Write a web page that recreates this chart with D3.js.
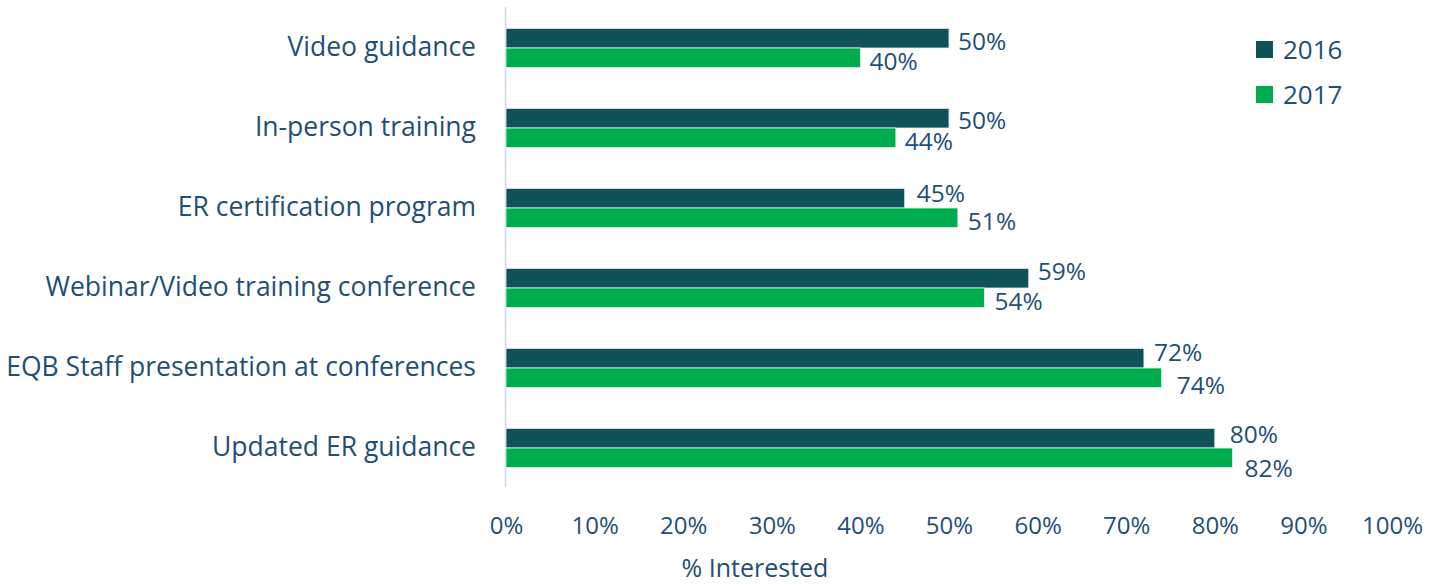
<!DOCTYPE html>
<html>
<head>
<meta charset="utf-8">
<script src="https://cdn.jsdelivr.net/npm/d3@7"></script>
<style>
  html, body { margin: 0; padding: 0; background: #ffffff; }
  svg { display: block; }
  text { font-family: "Open Sans", "Lato", sans-serif; fill: #1f4e79; }
</style>
</head>
<body>
<svg id="chart" width="1447" height="585"></svg>
<script>
// Interest in outreach options, share of respondents
const categories = [
  "Video guidance",
  "In-person training",
  "ER certification program",
  "Webinar/Video training conference",
  "EQB Staff presentation at conferences",
  "Updated ER guidance"
];
const seriesNames = ["2016", "2017"];
const values2016 = [0.50, 0.50, 0.45, 0.59, 0.72, 0.80];
const values2017 = [0.40, 0.44, 0.51, 0.54, 0.74, 0.82];
const tickValues = [0, 0.1, 0.2, 0.3, 0.4, 0.5, 0.6, 0.7, 0.8, 0.9, 1.0];
const axisTitle = "% Interested";

// hand-placed label nudges (px) so neighbouring value labels don't collide
const labelNudge = {
  "2016": { dx: [9, 9, 12, 9, 10, 15], dy: [2.6, 1.4, -6, -8, -7, -5] },
  "2017": { dx: [9, 9, 10, 10, 15, 12], dy: [3, 2.7, 3, 2.5, 6.5, 10] }
};

const colors = { "2016": "#10525a", "2017": "#00ad4e" };
const textColor = "#1f4e79";
const valueFont = 24.5;
const categoryFont = 26.5;
const tickFont = 24;

const svg = d3.select("#chart");
const plot = { left: 506, right: 1392, top: 8, bottom: 488 };

const x = d3.scaleLinear().domain([0, 1]).range([plot.left, plot.right]);
const y = d3.scaleBand().domain(categories).range([plot.top, plot.bottom]).paddingInner(0.51).paddingOuter(0.255);
const sub = d3.scaleBand().domain(seriesNames).range([0, y.bandwidth()]);

const rows = categories.map((c, i) => ({ cat: c, i, "2016": values2016[i], "2017": values2017[i] }));

// vertical baseline
svg.append("line")
  .attr("x1", x(0) - 0.5).attr("x2", x(0) - 0.5)
  .attr("y1", plot.top - 1).attr("y2", plot.bottom - 1)
  .attr("stroke", "#c5dcf2").attr("stroke-width", 1.5);

// bars
const groups = svg.append("g").selectAll("g").data(rows).join("g")
  .attr("transform", d => `translate(0,${y(d.cat)})`);

const cells = d => seriesNames.map(s => ({ s, v: d[s], i: d.i }));

groups.selectAll("rect").data(cells).join("rect")
  .attr("x", x(0))
  .attr("y", d => sub(d.s))
  .attr("width", d => x(d.v) - x(0))
  .attr("height", sub.bandwidth())
  .attr("fill", d => colors[d.s])
  .attr("stroke", "#e3f1ea").attr("stroke-width", 0.8);

// value labels
groups.selectAll("text.val").data(cells).join("text")
  .attr("class", "val")
  .attr("x", d => x(d.v) + labelNudge[d.s].dx[d.i])
  .attr("y", d => sub(d.s) + sub.bandwidth() / 2 + labelNudge[d.s].dy[d.i])
  .attr("dominant-baseline", "central")
  .attr("font-size", valueFont)
  .text(d => d3.format(".0%")(d.v));

// category labels
const yAxis = d3.axisLeft(y).tickSize(0).tickPadding(0);
const yg = svg.append("g").attr("transform", `translate(476,0)`).call(yAxis);
yg.select(".domain").remove();
yg.selectAll("text").attr("font-size", categoryFont).attr("fill", textColor)
  .style("font-family", '"Open Sans", "Lato", sans-serif');

// x tick labels
const xAxis = d3.axisBottom(x).tickValues(tickValues).tickFormat(d3.format(".0%")).tickSize(0).tickPadding(0);
const xg = svg.append("g").attr("transform", `translate(0,517)`).call(xAxis);
xg.select(".domain").remove();
xg.selectAll("text").attr("font-size", tickFont).attr("fill", textColor)
  .style("font-family", '"Open Sans", "Lato", sans-serif');

// axis title
svg.append("text")
  .attr("x", 755).attr("y", 567)
  .attr("text-anchor", "middle")
  .attr("dominant-baseline", "central")
  .attr("font-size", 25)
  .text(axisTitle);

// legend
const legend = svg.append("g").selectAll("g").data(seriesNames).join("g")
  .attr("transform", (d, i) => `translate(1256,${41 + i * 45})`);
legend.append("rect").attr("width", 17).attr("height", 17).attr("fill", d => colors[d]);
legend.append("text").attr("x", 27).attr("y", 8)
  .attr("dominant-baseline", "central").attr("font-size", 26)
  .text(d => d);
</script>
</body>
</html>
